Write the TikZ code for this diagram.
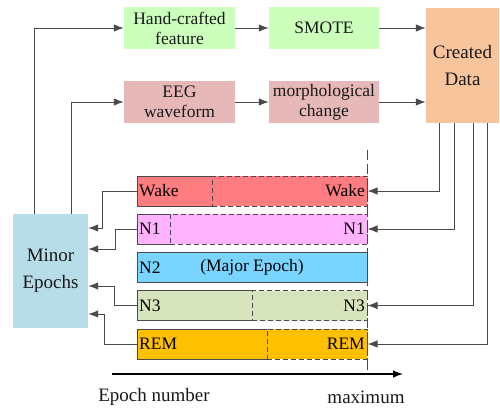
\documentclass[tikz,border=0pt]{standalone}
\usepackage{fontspec}
\setmainfont{Liberation Serif}
\usetikzlibrary{arrows.meta}

\definecolor{featgreen}{HTML}{CCFFBB}
\definecolor{wavepink}{HTML}{E6B8B7}
\definecolor{createdorange}{HTML}{F8C49C}
\definecolor{minorblue}{HTML}{B7DEE8}
\definecolor{wakered}{HTML}{FF7C80}
\definecolor{nonepink}{HTML}{FFB3FF}
\definecolor{ntwoblue}{HTML}{79D5FF}
\definecolor{nthreegreen}{HTML}{D7E4BD}
\definecolor{remyellow}{HTML}{FFC000}
\definecolor{linegray}{HTML}{4A4A4A}

\tikzset{
  box/.style={inner sep=0pt, align=center, text=black!90},
  bigbox/.style={box, font=\fontsize{19}{27}\selectfont},
  solidbar/.style={draw=linegray, line width=1pt, minimum height=30pt, inner sep=0pt},
  dashbar/.style={solidbar, dash pattern=on 5pt off 3pt},
  link/.style={->, draw=linegray, line width=1pt},
  every label/.style={inner sep=2.5pt},
}

\begin{document}
\begin{tikzpicture}[x=1pt,y=-1pt,>={Latex[length=10pt,width=7.5pt]}]
  \useasboundingbox (0,0) rectangle (500,408);
  \begin{scope}[font=\fontsize{17.5}{20}\selectfont]
    % upper boxes
    \node[box, fill=featgreen, minimum width=111pt, minimum height=42pt] (hand) at (179.5,28) {Hand-crafted\\feature};
    \node[box, fill=featgreen, minimum width=110pt, minimum height=42pt] (smote) at (324,28) {SMOTE};
    \node[box, fill=wavepink, minimum width=111pt, minimum height=42pt] (eeg) at (179.5,102) {EEG\\waveform};
    \node[box, fill=wavepink, minimum width=110pt, minimum height=42pt] (morph) at (324,102) {morphological\\change};
    \node[bigbox, fill=createdorange, minimum width=73pt, minimum height=115pt] (created) at (462.5,65.5) {Created\\Data};
    \node[bigbox, fill=minorblue, minimum width=75pt, minimum height=114pt] (minor) at (50.5,271) {Minor\\Epochs};

    % epoch number axis
    \coordinate (axis-start) at (112,374);
    \coordinate (axis-end) at (403,374);
    \coordinate (max-top) at (367,150);
    \coordinate (max-bot) at (367,374);
    \draw[linegray, line width=1pt, dash pattern=on 10pt off 4pt] (max-top) -- (max-bot);
    \draw[->, black, line width=1.2pt] (axis-start) -- (axis-end);
    \node[bigbox] (epoch-label) at (154,397) {Epoch number};
    \node[bigbox] (max-label) at (366,397) {maximum};

    % sleep stage bars
    \node[solidbar, fill=wakered, minimum width=75pt, label={[anchor=west]west:Wake}] (wake-a) at (174.5,191) {};
    \node[dashbar, fill=wakered, minimum width=155pt, label={[anchor=east]east:Wake}] (wake-b) at (289.5,191) {};
    \node[solidbar, fill=nonepink, minimum width=33pt, label={[anchor=west]west:N1}] (none-a) at (153.5,229) {};
    \node[dashbar, fill=nonepink, minimum width=197pt, label={[anchor=east]east:N1}] (none-b) at (268.5,229) {};
    \node[solidbar, fill=ntwoblue, minimum width=230pt, label={[anchor=west]west:N2}] (ntwo) at (252,267.5) {(Major Epoch)};
    \node[solidbar, fill=nthreegreen, minimum width=115pt, label={[anchor=west]west:N3}] (nthree-a) at (194.5,305.5) {};
    \node[dashbar, fill=nthreegreen, minimum width=115pt, label={[anchor=east]east:N3}] (nthree-b) at (309.5,305.5) {};
    \node[solidbar, fill=remyellow, minimum width=130pt, label={[anchor=west]west:REM}] (rem-a) at (202,344) {};
    \node[dashbar, fill=remyellow, minimum width=100pt, label={[anchor=east]east:REM}] (rem-b) at (317,344) {};

    % minor epochs to the generators
    \draw[link] (minor.north) ++(-16.5,0) |- (hand.west);
    \draw[link] (minor.north) ++(20.5,0) |- (eeg.west);
    \draw[link] (hand) -- (smote);
    \draw[link] (eeg) -- (morph);
    \draw[link] (smote.east) -- (smote.east -| created.west);
    \draw[link] (morph.east) -- (morph.east -| created.west);

    % created data back to the minor stages
    \draw[link] ([xshift=14pt]created.south west) |- (wake-b.east);
    \draw[link] ([xshift=29pt]created.south west) |- (none-b.east);
    \draw[link] ([xshift=48pt]created.south west) |- (nthree-b.east);
    \draw[link] ([xshift=62pt]created.south west) |- (rem-b.east);

    % minor stages to the minor epochs box
    \draw[link] (wake-a.west) -- ++(-34,0) |- ([yshift=43pt]minor.east);
    \draw[link] (none-a.west) -- ++(-21,0) |- ([yshift=22pt]minor.east);
    \draw[link] (nthree-a.west) -- ++(-22,0) |- ([yshift=-15pt]minor.east);
    \draw[link] (rem-a.west) -- ++(-32,0) |- ([yshift=-43pt]minor.east);
  \end{scope}
\end{tikzpicture}
\end{document}
